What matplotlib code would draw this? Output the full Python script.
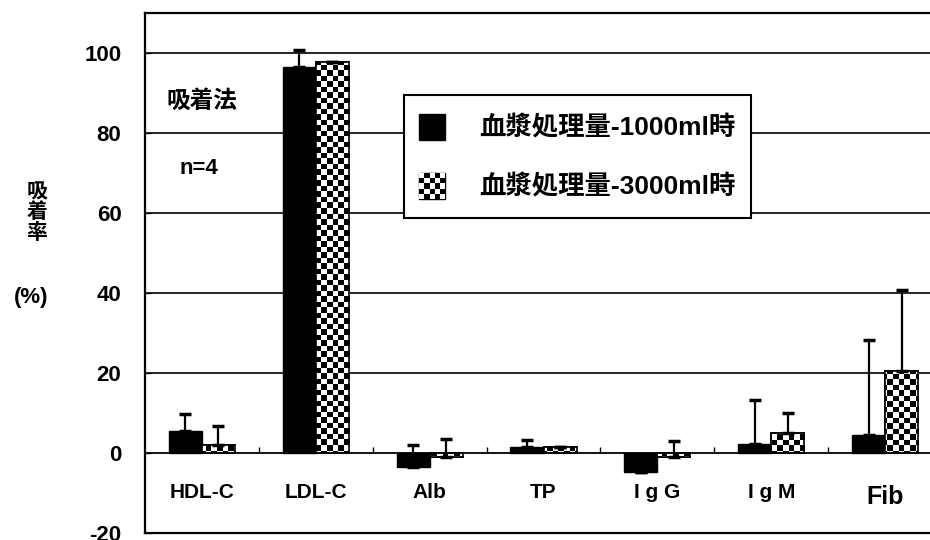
import numpy as np
import matplotlib
matplotlib.use("Agg")
import matplotlib.pyplot as plt
from matplotlib.patches import Rectangle
from matplotlib.legend_handler import HandlerBase

plt.rcParams['font.family'] = ['Liberation Sans', 'Noto Sans CJK JP', 'DejaVu Sans']
plt.rcParams['font.weight'] = 'bold'

categories = ["HDL-C", "LDL-C", "Alb", "TP", "I g G", "I g M", "Fib"]
series_names = ["血漿処理量-1000ml時", "血漿処理量-3000ml時"]
vals_1000 = [5.5, 96.5, -3.5, 1.6, -4.8, 2.3, 4.5]
err_1000 = [4.2, 4.3, 5.5, 1.6, 0.0, 11.0, 23.8]
vals_3000 = [2.0, 97.8, -1.0, 1.5, -1.0, 5.0, 20.5]
err_3000 = [4.8, 0.0, 4.5, 0.0, 4.0, 5.0, 20.3]
yticks = [-20, 0, 20, 40, 60, 80, 100]

fig = plt.figure(figsize=(9.3, 5.4), dpi=100)
ax = fig.add_axes([145/930, 7/540, 797/930, 520/540])
ax.set_xlim(-0.5, len(categories) - 0.5)
ax.set_ylim(-20, 110)

for v in [20, 40, 60, 80, 100]:
    ax.axhline(v, color='black', lw=1.2, zorder=1)
ax.axhline(0, color='black', lw=1.3, zorder=3)

x = np.arange(len(categories))
w = 0.29
b1 = ax.bar(x - w/2, vals_1000, w, color='black', edgecolor='black', lw=1, zorder=2)
b2 = ax.bar(x + w/2, vals_3000, w, color='white', edgecolor='black', lw=1.2, zorder=2)

# checker texture clipped to the 3000ml bars
fig.canvas.draw()
bb = ax.get_window_extent()
cell = 5.5
nx = int(bb.width / cell) + 1
ny = int(bb.height / cell) + 1
ii, jj = np.meshgrid(np.arange(nx), np.arange(ny))
checker = ((ii + jj) % 2).astype(float)
x0, x1 = ax.get_xlim()
y0, y1 = ax.get_ylim()
ext = [x0, x0 + nx * cell / bb.width * (x1 - x0), y0, y0 + ny * cell / bb.height * (y1 - y0)]
for p in b2:
    im = ax.imshow(checker, cmap='gray', vmin=0, vmax=1, extent=ext, origin='lower',
                   aspect='auto', interpolation='nearest', zorder=2.5)
    im.set_clip_path(p)
ax.set_xlim(x0, x1)
ax.set_ylim(y0, y1)
for p in b2:
    r = Rectangle((p.get_x(), p.get_y()), p.get_width(), p.get_height(),
                  fill=False, edgecolor='black', lw=1.2, zorder=2.6)
    ax.add_patch(r)

ax.errorbar(x - w/2, vals_1000, yerr=[np.zeros(len(x)), err_1000], fmt='none',
            ecolor='black', elinewidth=1.6, capsize=4, capthick=2.5, zorder=4)
ax.errorbar(x + w/2, vals_3000, yerr=[np.zeros(len(x)), err_3000], fmt='none',
            ecolor='black', elinewidth=1.6, capsize=4, capthick=2.5, zorder=4)

# boundary ticks on zero line
ax.vlines(x[:-1] + 0.5, 0, 1.6, color='black', lw=1, zorder=3)

for xi, c in zip(x, categories):
    fs = 18 if c == "Fib" else 15
    yy = -11 if c == "Fib" else -10
    ax.text(xi, yy, c, ha='center', va='center', fontsize=fs, fontweight='bold')

ax.set_xticks([])
ax.set_yticks(yticks)
ax.set_yticklabels([str(t) for t in yticks], fontsize=16, fontweight='bold')
ax.tick_params(axis='y', direction='in', length=4, width=1, pad=17)
for s in ax.spines.values():
    s.set_linewidth(1.6)

ax.text(0.0, 88, "吸着法", ha='center', va='center', fontsize=17, fontweight='bold',
        family=['Noto Sans CJK JP'])
ax.text(-0.03, 71, "n=4", ha='center', va='center', fontsize=16, fontweight='bold')

fig.text(37/930, 1 - 212/540, "吸\n着\n率", ha='center', va='center', fontsize=15,
         fontweight='bold', family=['Noto Sans CJK JP'], linespacing=0.95)
fig.text(31/930, 1 - 298/540, "(%)", ha='center', va='center', fontsize=16, fontweight='bold')


class CheckerHandler(HandlerBase):
    def create_artists(self, legend, orig_handle, xdescent, ydescent, width, height,
                       fontsize, trans):
        x0 = -xdescent
        y0 = -ydescent + (height - width) / 2
        arts = [Rectangle((x0, y0), width, width,
                          facecolor='black', edgecolor='black', lw=1, transform=trans)]
        n = 5
        s = width / n
        for i in range(n):
            for j in range(n):
                if (i + j) % 2 == 0:
                    arts.append(Rectangle((x0 + i * s, y0 + j * s),
                                          s, s, facecolor='white', edgecolor='none',
                                          transform=trans))
        return arts


class SquareHandler(HandlerBase):
    def create_artists(self, legend, orig_handle, xdescent, ydescent, width, height,
                       fontsize, trans):
        return [Rectangle((-xdescent, -ydescent + (height - width) / 2), width, width,
                          facecolor='black', edgecolor='black', lw=1, transform=trans)]


leg = ax.legend([b1, b2], series_names, handler_map={b1: SquareHandler(), b2: CheckerHandler()},
                loc='upper left', bbox_to_anchor=((404 - 145) / 797, (533 - 95) / 520),
                frameon=True, fancybox=False, edgecolor='black', framealpha=1,
                prop={'family': ['Liberation Sans', 'Noto Sans CJK JP'], 'weight': 'bold', 'size': 19},
                handlelength=0.98, handleheight=1.59, handletextpad=1.3, labelspacing=0.95,
                borderpad=0.58, borderaxespad=0)
leg.get_frame().set_linewidth(1.5)
leg.set_zorder(5)

fig.savefig("out.png", dpi=100)
